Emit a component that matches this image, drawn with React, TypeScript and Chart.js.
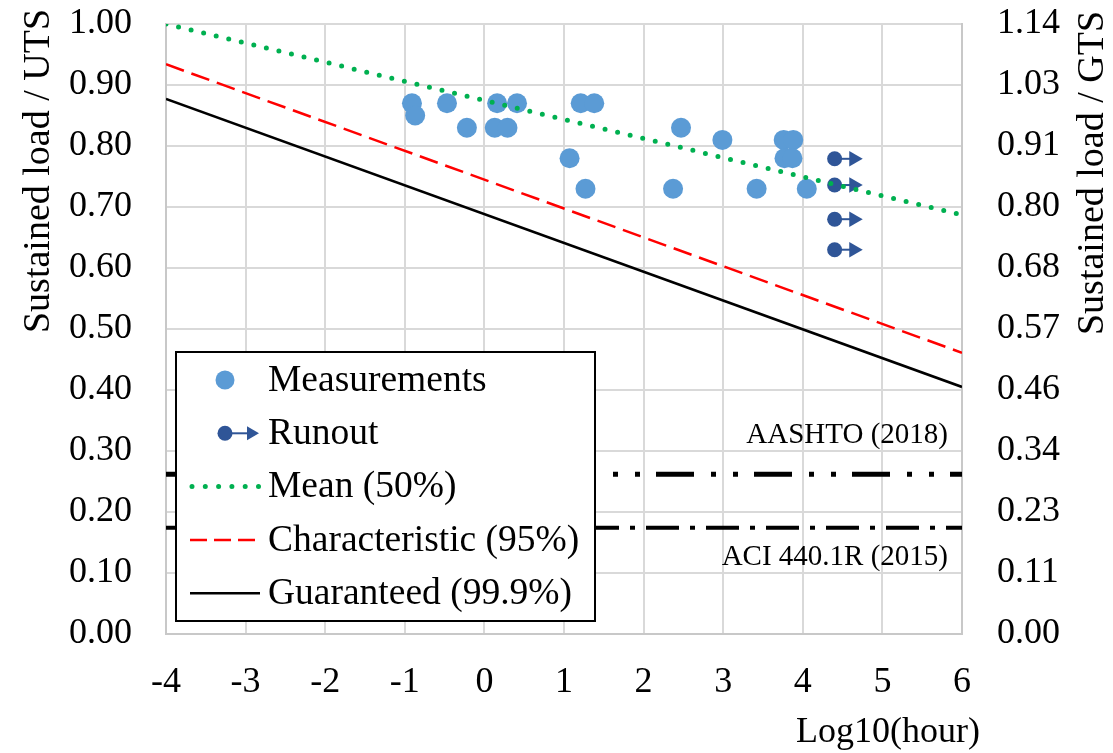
import React, { useEffect, useRef } from "react";
import { Chart, registerables } from "chart.js";

Chart.register(...registerables);

// ---- Data ----
const measX = [-0.91, -0.87, -0.47, -0.22, 0.13, 0.29, 0.16, 0.41, 1.07, 1.27, 1.21, 1.38, 2.37, 2.47, 2.99, 3.42, 3.76, 3.88, 3.77, 3.87, 4.05];
const measY = [0.87, 0.85, 0.87, 0.83, 0.83, 0.83, 0.87, 0.87, 0.78, 0.73, 0.87, 0.87, 0.73, 0.83, 0.81, 0.73, 0.81, 0.81, 0.78, 0.78, 0.73];

const runoutX = 4.4;
const runoutArrowX = 4.64;
const runoutY = [0.779, 0.736, 0.68, 0.63];

const lineX = [-4, 6];
const meanY = [1.0, 0.687];
const charY = [0.934, 0.461];
const guarY = [0.877, 0.405];
const aashtoY = [0.262, 0.262];
const aciY = [0.174, 0.174];

const gtsFactor = 1.14;

const legendLabels = ["Measurements", "Runout", "Mean (50%)", "Characteristic (95%)", "Guaranteed (99.9%)"];
const annotationLabels = ["AASHTO (2018)", "ACI 440.1R (2015)"];
const leftTitle = "Sustained load / UTS";
const rightTitle = "Sustained load / GTS";
const xTitle = "Log10(hour)";

// ---- Styles ----
const FONT = "'Liberation Serif', 'Times New Roman', serif";
const MEAS_COLOR = "#5B9BD5";
const RUN_COLOR = "#2F5597";
const GREEN = "#00B050";
const RED = "#FF0000";
const GRID = "#D9D9D9";
const TICK_SIZE = 36;

const toPts = (xs: number[], ys: number[]) => xs.map((x, i) => ({ x, y: ys[i] }));

function drawTri(ctx: CanvasRenderingContext2D, cx: number, cy: number, r: number) {
  ctx.beginPath();
  ctx.moveTo(cx + r, cy);
  ctx.lineTo(cx - r / 2, cy - r * 0.866);
  ctx.lineTo(cx - r / 2, cy + r * 0.866);
  ctx.closePath();
  ctx.fill();
}

const overlayPlugin = {
  id: "overlay",
  afterDraw(chart: any) {
    const { ctx, chartArea, scales } = chart;
    const xs = scales.x;
    const ys = scales.y;
    ctx.save();

    // annotations
    ctx.fillStyle = "#000";
    ctx.font = `29px ${FONT}`;
    ctx.textAlign = "right";
    ctx.textBaseline = "middle";
    const ax = xs.getPixelForValue(lineX[1]) - 14;
    ctx.fillText(annotationLabels[0], ax, ys.getPixelForValue(aashtoY[1]) - 39);
    ctx.fillText(annotationLabels[1], ax, ys.getPixelForValue(aciY[1]) + 30);

    // legend
    const lx = chartArea.left + 10;
    const ly = chartArea.top + 328;
    const lw = 419;
    const lh = 269;
    ctx.fillStyle = "#fff";
    ctx.fillRect(lx, ly, lw, lh);
    ctx.strokeStyle = "#000";
    ctx.lineWidth = 2;
    ctx.setLineDash([]);
    ctx.strokeRect(lx, ly, lw, lh);

    const symL = lx + 14;
    const symR = lx + 84;
    const symC = lx + 49;
    const textX = lx + 92;
    const rowY = (i: number) => ly + 28 + i * 53.3;

    // Measurements
    ctx.fillStyle = MEAS_COLOR;
    ctx.beginPath();
    ctx.arc(symC, rowY(0), 9.5, 0, Math.PI * 2);
    ctx.fill();
    // Runout
    ctx.strokeStyle = RUN_COLOR;
    ctx.fillStyle = RUN_COLOR;
    ctx.lineWidth = 2;
    ctx.beginPath();
    ctx.moveTo(symC, rowY(1));
    ctx.lineTo(symC + 22, rowY(1));
    ctx.stroke();
    ctx.beginPath();
    ctx.arc(symC, rowY(1), 7.5, 0, Math.PI * 2);
    ctx.fill();
    drawTri(ctx, symC + 26, rowY(1), 8);
    // Mean
    ctx.strokeStyle = GREEN;
    ctx.lineWidth = 5;
    ctx.lineCap = "round";
    ctx.setLineDash([0, 13.3]);
    ctx.beginPath();
    ctx.moveTo(symL + 2, rowY(2));
    ctx.lineTo(symR + 1, rowY(2));
    ctx.stroke();
    // Characteristic
    ctx.lineCap = "butt";
    ctx.strokeStyle = RED;
    ctx.lineWidth = 2.5;
    ctx.setLineDash([17, 7]);
    ctx.beginPath();
    ctx.moveTo(symL, rowY(3));
    ctx.lineTo(symR, rowY(3));
    ctx.stroke();
    // Guaranteed
    ctx.strokeStyle = "#000";
    ctx.setLineDash([]);
    ctx.beginPath();
    ctx.moveTo(symL, rowY(4));
    ctx.lineTo(symR, rowY(4));
    ctx.stroke();

    ctx.fillStyle = "#000";
    ctx.font = `37.5px ${FONT}`;
    ctx.textAlign = "left";
    ctx.textBaseline = "middle";
    legendLabels.forEach((t, i) => ctx.fillText(t, textX, rowY(i) + 1));

    // axis titles
    ctx.font = `38px ${FONT}`;
    ctx.textAlign = "center";
    ctx.save();
    ctx.translate(39, 171);
    ctx.rotate(-Math.PI / 2);
    ctx.fillText(leftTitle, 0, 0);
    ctx.restore();
    ctx.save();
    ctx.translate(1093, 173);
    ctx.rotate(-Math.PI / 2);
    ctx.fillText(rightTitle, 0, 0);
    ctx.restore();
    ctx.font = `36px ${FONT}`;
    ctx.textAlign = "right";
    ctx.fillText(xTitle, 980, 733);

    ctx.restore();
  },
};

export default function App() {
  const ref = useRef<HTMLCanvasElement>(null);

  useEffect(() => {
    document.body.style.margin = "0";
    if (!ref.current) return;

    const runoutSets = runoutY.map((y) => ({
      type: "line" as const,
      label: "Runout",
      data: [
        { x: runoutX, y },
        { x: runoutArrowX, y },
      ],
      showLine: true,
      borderColor: RUN_COLOR,
      borderWidth: 2,
      pointStyle: ["circle", "triangle"],
      pointRadius: [7.5, 9],
      pointRotation: [0, 90],
      pointBackgroundColor: RUN_COLOR,
      pointBorderWidth: 0,
      pointBorderColor: RUN_COLOR,
    }));

    const lineSet = (data: any, color: string, width: number, dash: number[], cap: any = "butt") => ({
      type: "line" as const,
      data,
      showLine: true,
      borderColor: color,
      borderWidth: width,
      borderDash: dash,
      borderCapStyle: cap,
      pointRadius: 0,
      fill: false,
    });

    const noPad = (s: any) => {
      s.paddingTop = 0;
      s.paddingBottom = 0;
    };

    const chart = new Chart(ref.current, {
      type: "scatter",
      data: {
        datasets: [
          { label: "Mean (50%)", ...lineSet(toPts(lineX, meanY), GREEN, 5, [0, 12.9], "round") },
          { label: "Characteristic (95%)", ...lineSet(toPts(lineX, charY), RED, 2.5, [19, 8]) },
          { label: "Guaranteed (99.9%)", ...lineSet(toPts(lineX, guarY), "#000", 2.5, []) },
          ...runoutSets,
          {
            label: "Measurements",
            data: toPts(measX, measY),
            pointRadius: 10,
            pointBackgroundColor: MEAS_COLOR,
            pointBorderWidth: 0,
            pointBorderColor: MEAS_COLOR,
          },
          { label: "AASHTO", ...lineSet(toPts(lineX, aashtoY), "#000", 5, [38, 17, 5, 17, 5, 16]) },
          { label: "ACI", ...lineSet(toPts(lineX, aciY), "#000", 4, [33, 11, 5, 11]) },
        ] as any,
      },
      options: {
        animation: false,
        responsive: true,
        maintainAspectRatio: false,
        layout: { padding: { top: 24, left: 0, right: 0, bottom: 0 } },
        plugins: {
          legend: { display: false },
          tooltip: { enabled: false },
        },
        scales: {
          x: {
            type: "linear",
            min: -4,
            max: 6,
            ticks: {
              stepSize: 1,
              color: "#000",
              font: { family: FONT, size: TICK_SIZE },
              padding: 27,
            },
            grid: { color: GRID, lineWidth: 2, drawTicks: false },
            border: { color: "#C8C8C8", width: 2 },
            afterFit: (s: any) => {
              s.height = 119;
            },
          },
          y: {
            type: "linear",
            position: "left",
            min: 0,
            max: 1,
            ticks: {
              stepSize: 0.1,
              color: "#000",
              font: { family: FONT, size: TICK_SIZE },
              padding: 34,
              callback: (v: any) => Number(v).toFixed(2),
            },
            grid: { color: GRID, lineWidth: 2, drawTicks: false },
            border: { color: "#C8C8C8", width: 2 },
            afterFit: (s: any) => {
              s.width = 166;
              noPad(s);
            },
          },
          y2: {
            type: "linear",
            position: "right",
            min: 0,
            max: 1,
            ticks: {
              stepSize: 0.1,
              color: "#000",
              font: { family: FONT, size: TICK_SIZE },
              padding: 35,
              callback: (v: any) => (Number(v) * gtsFactor).toFixed(2),
            },
            grid: { drawOnChartArea: false, drawTicks: false },
            border: { color: "#C8C8C8", width: 2 },
            afterFit: (s: any) => {
              s.width = 151;
              noPad(s);
            },
          },
        },
      },
      plugins: [overlayPlugin],
    });

    return () => chart.destroy();
  }, []);

  return (
    <div style={{ position: "relative", width: 1113, height: 753 }}>
      <canvas ref={ref} />
    </div>
  );
}
